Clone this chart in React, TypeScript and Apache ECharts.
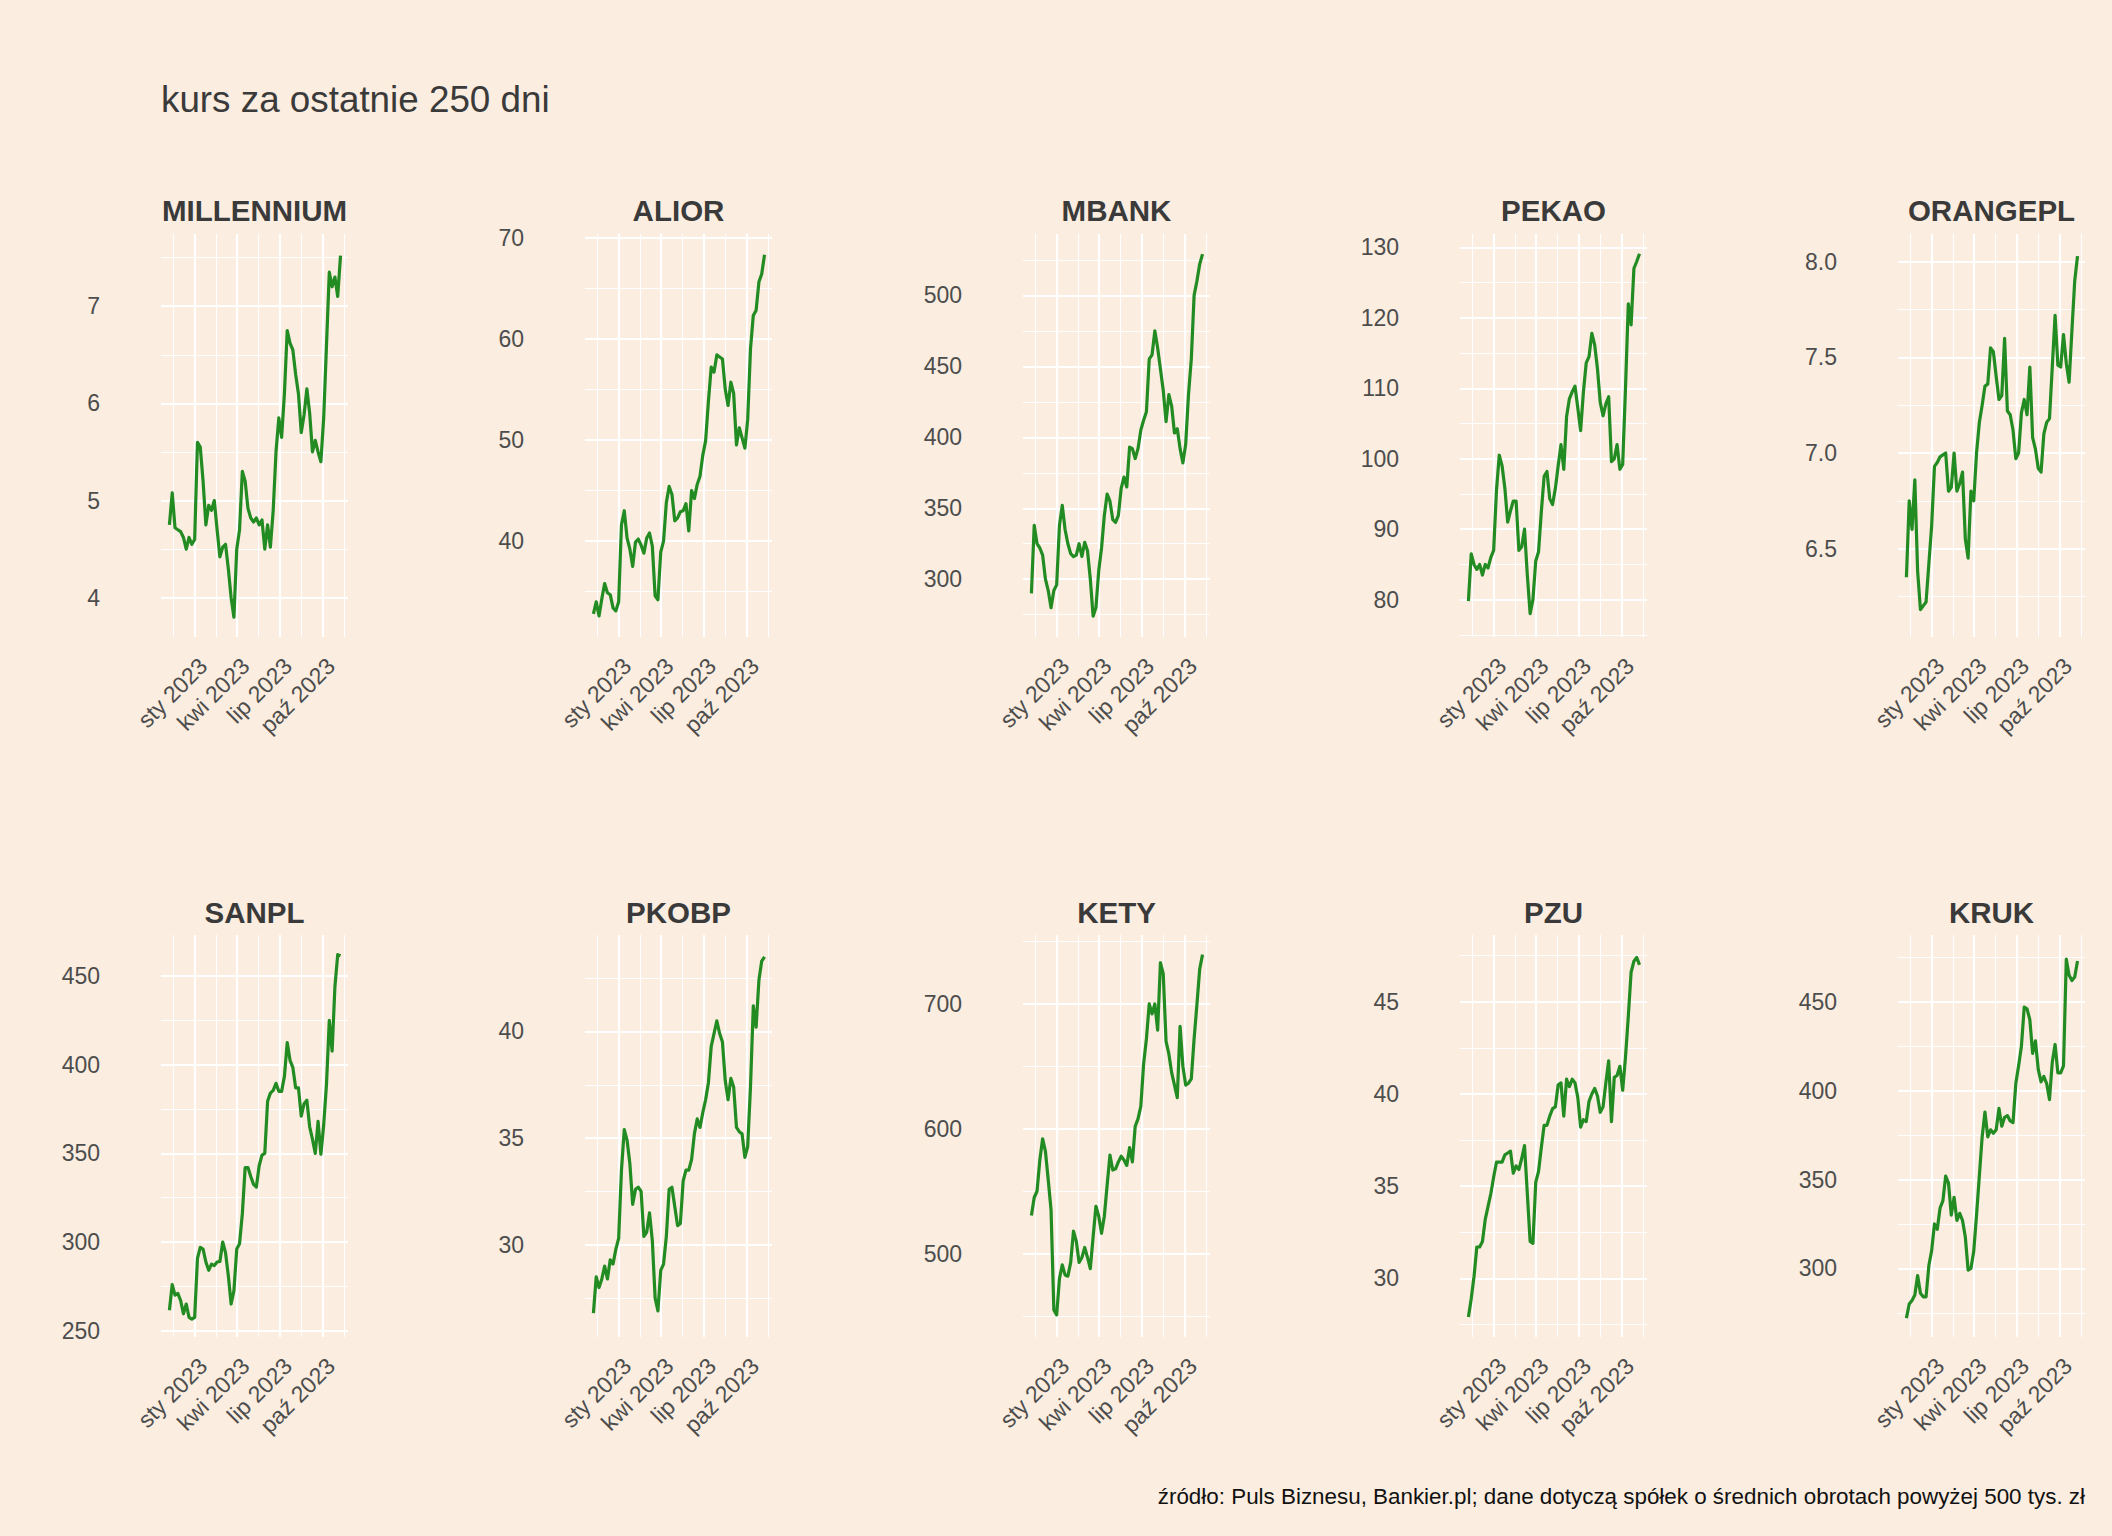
import React, { useEffect, useRef } from "react";
import * as echarts from "echarts";

// ---------- data ----------
// trading-day samples, expressed as days relative to 2023-01-01
const DAYS = [
  -55, -49, -43, -37, -31, -25, -19, -13, -7, -1, 5, 11, 17, 23, 29, 35, 41, 47, 53, 59, 65,
  71, 77, 83, 89, 95, 101, 107, 113, 119, 125, 131, 137, 143, 149, 155, 161, 167, 173, 179,
  185, 191, 197, 203, 209, 215, 221, 227, 233, 239, 245, 251, 257, 263, 269, 275, 281, 287,
  293, 299, 305, 311,
];

const MILLENNIUM = [
  4.75, 5.08, 4.72, 4.7, 4.68, 4.62, 4.5, 4.62, 4.55, 4.6, 5.6, 5.55, 5.2, 4.75, 4.95, 4.9, 5.0,
  4.7, 4.42, 4.52, 4.55, 4.3, 4.0, 3.8, 4.5, 4.7, 5.3, 5.2, 4.92, 4.82, 4.78, 4.82, 4.75, 4.8,
  4.5, 4.75, 4.52, 4.9, 5.5, 5.85, 5.65, 6.1, 6.75, 6.62, 6.55, 6.3, 6.1, 5.7, 5.88, 6.15, 5.9,
  5.5, 5.62, 5.5, 5.4, 5.85, 6.6, 7.35, 7.2, 7.3, 7.1, 7.52,
];
const ALIOR = [
  32.8, 34.0, 32.6, 34.3, 35.8, 34.9, 34.7, 33.4, 33.1, 34.0, 41.6, 43.0, 40.3, 39.2, 37.5, 39.9,
  40.2, 39.6, 38.8, 40.3, 40.8, 39.5, 34.6, 34.2, 38.9, 40.0, 43.8, 45.4, 44.6, 42.0, 42.3, 42.9,
  43.0, 43.7, 41.0, 45.0, 44.2, 45.6, 46.4, 48.5, 49.9, 53.8, 57.2, 56.7, 58.4, 58.2, 58.0, 55.0,
  53.4, 55.7, 54.6, 49.5, 51.2, 50.2, 49.2, 52.0, 59.0, 62.3, 62.8, 65.6, 66.4, 68.3,
];
const MBANK = [
  290, 338, 325, 322, 317, 300, 292, 280, 292, 296, 338, 352, 335, 325, 318, 316, 317, 325, 316,
  326, 320, 300, 274, 280, 306, 322, 345, 360, 355, 342, 340, 345, 364, 372, 365, 393, 392, 385,
  392, 405, 412, 418, 455, 458, 475, 463, 448, 433, 411, 430, 422, 403, 406, 392, 382, 395, 430,
  455, 500, 510, 522, 529,
];
const PEKAO = [
  79.8, 86.5, 85.0, 84.3, 85.0, 83.5, 85.0, 84.5, 86.0, 87.0, 95.5, 100.5, 99.0, 95.8, 91.0, 92.6,
  94.0, 94.0, 87.0, 87.5, 90.0, 83.5, 78.0, 80.0, 85.5, 86.8, 92.5, 97.5, 98.2, 94.3, 93.5, 95.8,
  99.0, 102.0, 98.5, 106.0, 108.5, 109.5, 110.3, 107.2, 104.0, 109.5, 113.6, 114.5, 117.8, 116.2,
  112.8, 108.0, 106.1, 107.8, 108.8, 99.6, 100.0, 102.0, 98.5, 99.2, 110.0, 122.0, 119.0, 127.0,
  128.0, 129.1,
];
const ORANGEPL = [
  6.35, 6.75, 6.6, 6.86, 6.38, 6.18, 6.2, 6.22, 6.42, 6.62, 6.93, 6.95, 6.98, 6.99, 7.0, 6.8, 6.82,
  7.0, 6.8, 6.84, 6.9, 6.55, 6.45, 6.8, 6.75, 7.0, 7.16, 7.25, 7.35, 7.36, 7.55, 7.53, 7.4, 7.28,
  7.3, 7.6, 7.22, 7.2, 7.12, 6.97, 7.0, 7.21, 7.28, 7.2, 7.45, 7.08, 7.02, 6.92, 6.9, 7.1, 7.16,
  7.18, 7.45, 7.72, 7.46, 7.45, 7.62, 7.47, 7.37, 7.64, 7.9, 8.03,
];
const SANPL = [
  261.5, 276.0, 270.0, 271.0, 267.0, 259.5, 265.0, 257.5, 256.5, 257.5, 290.7, 297.0, 296.0, 288.7,
  284.0, 287.5, 286.7, 288.7, 289.0, 300.0, 294.0, 281.0, 265.0, 272.6, 296.0, 299.0, 316.0, 342.0,
  342.0, 337.0, 332.5, 331.0, 343.0, 349.0, 350.0, 379.4, 384.0, 385.5, 389.5, 385.0, 385.0, 393.5,
  412.5, 402.5, 398.5, 387.0, 387.0, 371.0, 378.0, 380.0, 365.0, 358.0, 350.0, 368.0, 349.5, 366.0,
  389.0, 425.0, 407.7, 444.0, 462.1, 461.5,
];
const PKOBP = [
  26.8, 28.5, 28.0, 28.4, 29.0, 28.4, 29.3, 29.1, 29.8, 30.3, 33.5, 35.4, 34.9, 33.8, 31.9, 32.6,
  32.7, 32.5, 30.4, 30.6, 31.5, 30.2, 27.5, 26.9, 28.8, 29.1, 30.4, 32.6, 32.7, 31.8, 30.9, 31.0,
  33.0, 33.5, 33.5, 34.0, 35.2, 35.9, 35.5, 36.2, 36.8, 37.6, 39.3, 39.9, 40.5, 39.9, 39.5, 37.7,
  36.8, 37.8, 37.4, 35.5, 35.3, 35.2, 34.1, 34.6, 37.4, 41.2, 40.2, 42.4, 43.3, 43.5,
];
const KETY = [
  530.6, 545.0, 550.0, 575.0, 592.0, 582.0, 559.0, 535.0, 455.0, 451.0, 480.0, 491.0, 483.0, 482.0,
  493.0, 518.0, 510.0, 493.0, 497.0, 505.0, 497.0, 488.0, 513.4, 538.0, 530.0, 516.3, 530.0, 555.0,
  579.0, 567.0, 568.0, 573.5, 578.0, 575.0, 570.7, 585.0, 573.5, 602.0, 608.0, 618.0, 652.0, 672.0,
  700.0, 692.0, 700.0, 679.0, 733.0, 724.0, 670.0, 660.0, 645.0, 635.0, 625.0, 682.0, 650.0, 635.0,
  636.5, 640.0, 672.0, 699.4, 728.0, 739.5,
];
const PZU = [
  27.9, 28.9, 30.1, 31.7, 31.7, 32.0, 33.2, 33.9, 34.6, 35.5, 36.3, 36.3, 36.3, 36.7, 36.8, 36.9,
  35.7, 36.1, 35.9, 36.5, 37.2, 34.6, 32.0, 31.9, 35.2, 35.8, 37.1, 38.3, 38.3, 38.8, 39.2, 39.3,
  40.5, 40.6, 38.8, 40.8, 40.4, 40.8, 40.6, 39.8, 38.2, 38.6, 38.5, 39.6, 40.0, 40.3, 39.9, 39.0,
  39.3, 40.6, 41.8, 38.5, 40.9, 41.0, 41.5, 40.2, 42.0, 44.2, 46.6, 47.2, 47.4, 47.0,
];
const KRUK = [
  272, 280, 282, 285, 296, 286, 284, 284, 301.6, 310, 325, 322, 334, 338, 352, 348, 330, 340, 327,
  331, 327, 317.7, 299, 300, 309.6, 330, 352, 374, 388, 374, 378, 376, 378, 390, 380, 385, 386, 383,
  382, 404, 414, 425, 447, 446, 440, 421, 428, 412, 405, 408, 404, 395, 416, 426, 410, 410, 414, 474,
  465, 462, 464, 473,
];

// x axis ticks (days relative to 2023-01-01)
const X_MAJOR_DAYS = [0, 90, 181, 273];
const X_MAJOR_LABELS = ["sty 2023", "kwi 2023", "lip 2023", "paź 2023"];
const X_MINOR_DAYS = [-46, 45, 135.5, 227, 319];

// y axis ticks per panel
const Y_MAJOR = {
  MILLENNIUM: [4, 5, 6, 7],
  ALIOR: [40, 50, 60, 70],
  MBANK: [300, 350, 400, 450, 500],
  PEKAO: [80, 90, 100, 110, 120, 130],
  ORANGEPL: [6.5, 7.0, 7.5, 8.0],
  SANPL: [250, 300, 350, 400, 450],
  PKOBP: [30, 35, 40],
  KETY: [500, 600, 700],
  PZU: [30, 35, 40, 45],
  KRUK: [300, 350, 400, 450],
};
const Y_MINOR = {
  MILLENNIUM: [4.5, 5.5, 6.5, 7.5],
  ALIOR: [35, 45, 55, 65],
  MBANK: [275, 325, 375, 425, 475, 525],
  PEKAO: [75, 85, 95, 105, 115, 125],
  ORANGEPL: [6.25, 6.75, 7.25, 7.75],
  SANPL: [275, 325, 375, 425],
  PKOBP: [27.5, 32.5, 37.5, 42.5],
  KETY: [450, 550, 650, 750],
  PZU: [27.5, 32.5, 37.5, 42.5, 47.5],
  KRUK: [275, 325, 375, 425, 475],
};
// visible y extents of each panel
const Y_RANGE = {
  MILLENNIUM: [3.596, 7.743],
  ALIOR: [30.52, 70.35],
  MBANK: [259.3, 543.2],
  PEKAO: [74.7, 131.9],
  ORANGEPL: [6.037, 8.146],
  SANPL: [246.4, 473.2],
  PKOBP: [25.68, 44.52],
  KETY: [433.3, 755.2],
  PZU: [26.82, 48.62],
  KRUK: [261.4, 487.6],
};
const Y_DECIMALS = { ORANGEPL: 1 };

const PANELS: [string, number[]][] = [
  ["MILLENNIUM", MILLENNIUM],
  ["ALIOR", ALIOR],
  ["MBANK", MBANK],
  ["PEKAO", PEKAO],
  ["ORANGEPL", ORANGEPL],
  ["SANPL", SANPL],
  ["PKOBP", PKOBP],
  ["KETY", KETY],
  ["PZU", PZU],
  ["KRUK", KRUK],
];

const TITLE = "kurs za ostatnie 250 dni";
const CAPTION =
  "źródło: Puls Biznesu, Bankier.pl; dane dotyczą spółek o średnich obrotach powyżej 500 tys. zł";

// ---------- layout & style ----------
const W = 2112;
const H = 1536;
const BG = "#FBEDE0";
const FONT = "'Liberation Sans', Arial, sans-serif";
const X_MIN = -73;
const X_MAX = 327;
const COL_LEFT = [161, 585, 1023, 1460, 1898];
const ROW_TOP = [234, 935];
const ROW_H = [403, 402];
const PANEL_W = 187;
const STRIP_Y = [210, 912];
const LINE_COLOR = "#228B22";
const AXIS_TEXT = "#4D4D4D";
const TITLE_TEXT = "#3A3A3A";

function buildOption() {
  const grid: any[] = [];
  const xAxis: any[] = [];
  const yAxis: any[] = [];
  const series: any[] = [];
  const graphic: any[] = [];

  graphic.push({
    type: "text",
    x: 161,
    y: 99.5,
    silent: true,
    style: {
      text: TITLE,
      fill: TITLE_TEXT,
      fontSize: 36.8,
      fontFamily: FONT,
      align: "left",
      verticalAlign: "middle",
      textAlign: "left",
      textVerticalAlign: "middle",
    },
  });
  graphic.push({
    type: "text",
    x: 2085,
    y: 1496,
    silent: true,
    style: {
      text: CAPTION,
      fill: "#111111",
      fontSize: 22.4,
      fontFamily: FONT,
      align: "right",
      verticalAlign: "middle",
      textAlign: "right",
      textVerticalAlign: "middle",
    },
  });

  PANELS.forEach(([name, values], i) => {
    const col = i % 5;
    const row = Math.floor(i / 5);
    const left = COL_LEFT[col];
    const top = ROW_TOP[row];
    const [yMin, yMax] = (Y_RANGE as any)[name];
    const dec = (Y_DECIMALS as any)[name] ?? 0;

    grid.push({
      left,
      top,
      width: PANEL_W,
      height: ROW_H[row],
      containLabel: false,
      outerBoundsMode: "none",
    });

    xAxis.push({
      gridIndex: i,
      type: "value",
      min: X_MIN,
      max: X_MAX,
      axisLine: { show: false },
      axisTick: { show: false },
      splitLine: { show: false },
      axisLabel: {
        customValues: X_MAJOR_DAYS,
        formatter: (v: number) => {
          const k = X_MAJOR_DAYS.indexOf(Math.round(v));
          return k >= 0 ? X_MAJOR_LABELS[k] : "";
        },
        rotate: 45,
        align: "right",
        verticalAlign: "top",
        margin: 17,
        padding: [0, 0, 0, 0],
        fontSize: 23,
        color: AXIS_TEXT,
        fontFamily: FONT,
        hideOverlap: false,
      },
    });

    yAxis.push({
      gridIndex: i,
      type: "value",
      min: yMin,
      max: yMax,
      axisLine: { show: false },
      axisTick: { show: false },
      splitLine: { show: false },
      axisLabel: {
        customValues: (Y_MAJOR as any)[name],
        formatter: (v: number) => v.toFixed(dec),
        margin: 61,
        fontSize: 23,
        color: AXIS_TEXT,
        fontFamily: FONT,
      },
    });

    const gridLines: any[] = [];
    X_MINOR_DAYS.forEach((v) => gridLines.push({ xAxis: v, lineStyle: { width: 1.1 } }));
    (Y_MINOR as any)[name].forEach((v: number) =>
      gridLines.push({ yAxis: v, lineStyle: { width: 1.1 } })
    );
    X_MAJOR_DAYS.forEach((v) => gridLines.push({ xAxis: v, lineStyle: { width: 2.2 } }));
    (Y_MAJOR as any)[name].forEach((v: number) =>
      gridLines.push({ yAxis: v, lineStyle: { width: 2.2 } })
    );

    series.push({
      type: "line",
      name: name + "-grid",
      xAxisIndex: i,
      yAxisIndex: i,
      data: [],
      silent: true,
      z: 1,
      markLine: {
        silent: true,
        z: 1,
        symbol: ["none", "none"],
        label: { show: false },
        emphasis: { disabled: true },
        lineStyle: { color: "#FFFFFF", type: "solid", opacity: 1 },
        data: gridLines,
      },
    });

    series.push({
      type: "line",
      name,
      xAxisIndex: i,
      yAxisIndex: i,
      z: 5,
      showSymbol: false,
      symbol: "none",
      silent: true,
      lineStyle: { color: LINE_COLOR, width: 3.2, join: "round" },
      data: DAYS.map((d, k) => [d, values[k]]),
    });

    graphic.push({
      type: "text",
      x: left + PANEL_W / 2,
      y: STRIP_Y[row],
      silent: true,
      style: {
        text: name,
        fill: TITLE_TEXT,
        fontSize: 29.5,
        fontWeight: "bold",
        fontFamily: FONT,
        align: "center",
        verticalAlign: "middle",
        textAlign: "center",
        textVerticalAlign: "middle",
      },
    });
  });

  return {
    animation: false,
    backgroundColor: BG,
    textStyle: { fontFamily: FONT },
    grid,
    xAxis,
    yAxis,
    series,
    graphic,
  };
}

export default function App() {
  const ref = useRef<HTMLDivElement>(null);
  useEffect(() => {
    if (!ref.current) return;
    const chart = echarts.init(ref.current, null, { renderer: "svg", width: W, height: H });
    chart.setOption(buildOption() as any);
    return () => chart.dispose();
  }, []);
  return (
    <div
      ref={ref}
      style={{ position: "absolute", left: 0, top: 0, width: W, height: H, background: BG }}
    />
  );
}
